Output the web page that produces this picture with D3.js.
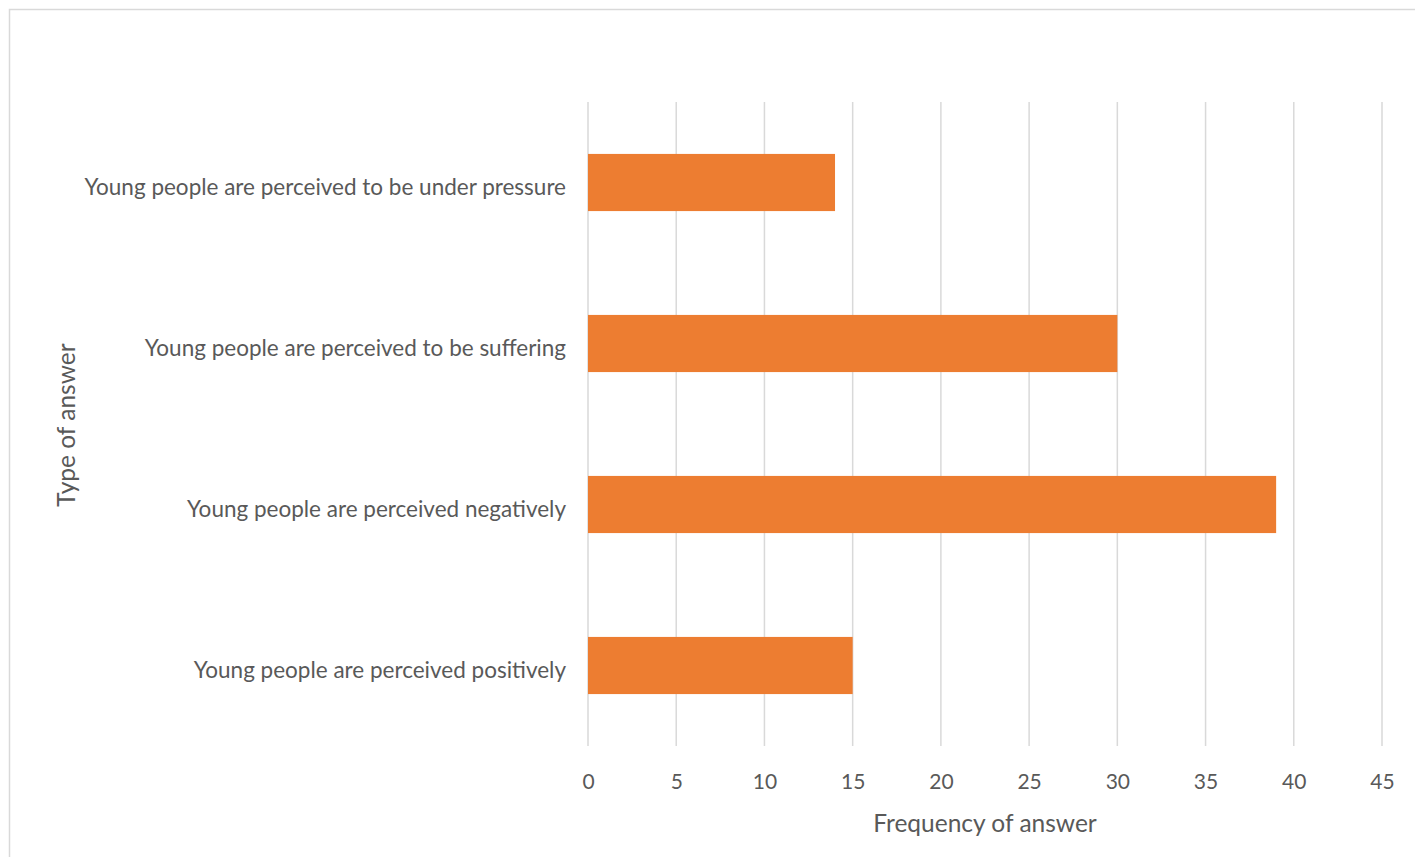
<!DOCTYPE html>
<html><head><meta charset="utf-8">
<script src="https://cdn.jsdelivr.net/npm/d3@7"></script>
<style>body{margin:0;background:#fff}svg{display:block}</style>
</head><body><div id="c"></div>
<script>
const categories = ["Young people are perceived to be under pressure","Young people are perceived to be suffering","Young people are perceived negatively","Young people are perceived positively"];
const values = [14, 30, 39, 15];
const xTicks = [0,5,10,15,20,25,30,35,40,45];
const xTitle = "Frequency of answer";
const yTitle = "Type of answer";

const W = 1415, H = 857;
const svg = d3.select("#c").append("svg").attr("width", W).attr("height", H);
const font = "Lato, 'Open Sans', sans-serif";
svg.append("rect").attr("x",9.5).attr("y",9.5).attr("width",W).attr("height",H).attr("fill","#fff").attr("stroke","#d9d9d9").attr("stroke-width",1.5);

const x = d3.scaleLinear().domain([0,45]).range([588,1382]);
const y = d3.scaleBand().domain(categories).range([102,746]).paddingInner(0.645).paddingOuter(0.3225);

const g = svg.append("g");
g.selectAll("line.grid").data(xTicks).join("line").attr("class","grid")
  .attr("x1",d=>x(d)).attr("x2",d=>x(d)).attr("y1",102).attr("y2",746)
  .attr("stroke","#d9d9d9").attr("stroke-width",1.5);

g.selectAll("rect.bar").data(values).join("rect").attr("class","bar")
  .attr("x",x(0)).attr("y",(d,i)=>y(categories[i])).attr("width",d=>x(d)-x(0)).attr("height",y.bandwidth())
  .attr("fill","#ED7D31");

const xa = svg.append("g").attr("transform","translate(0,746)").call(d3.axisBottom(x).tickValues(xTicks).tickSize(0).tickPadding(28));
xa.select(".domain").remove();
xa.selectAll("text").attr("font-family",font).attr("font-size",21).attr("fill","#595959");

const ya = svg.append("g").attr("transform","translate(588,0)").call(d3.axisLeft(y).tickSize(0).tickPadding(22));
ya.select(".domain").remove();
ya.selectAll("text").attr("font-family",font).attr("font-size",22.5).attr("fill","#595959").attr("dy","0.55em");

svg.append("text").attr("x",985).attr("y",832).attr("text-anchor","middle").attr("font-family",font).attr("font-size",24.5).attr("fill","#595959").text(xTitle);
svg.append("text").attr("transform","translate(75,425) rotate(-90)").attr("text-anchor","middle").attr("font-family",font).attr("font-size",24.5).attr("fill","#595959").text(yTitle);
</script></body></html>
